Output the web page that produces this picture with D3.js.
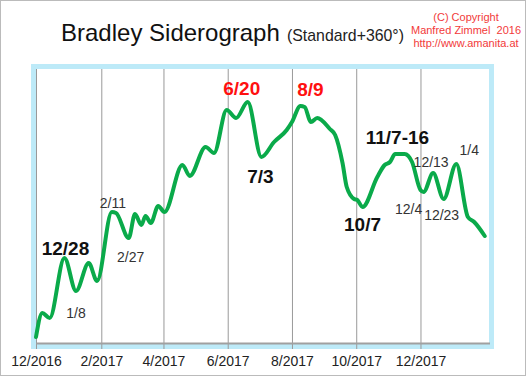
<!DOCTYPE html>
<html>
  <head>
    <title>Bradley Siderograph</title>
    <style>
      body,
      html {
        margin: 0;
        padding: 0;
        background: #fff;
      }
      svg {
        display: block;
        font-family: Arial, 'Liberation Sans', sans-serif;
      }
    </style>
  </head>
  <body>
    <svg id="svg" width="526" height="376"></svg>
    <script src="https://cdn.jsdelivr.net/npm/d3@7"></script>
    <script>
      // series (index values, no unit on the original)
      const dates = [
        '2016-12-01', '2016-12-07', '2016-12-14', '2016-12-28', '2017-01-08',
        '2017-01-20', '2017-01-28', '2017-02-11', '2017-02-15', '2017-02-27',
        '2017-03-05', '2017-03-11', '2017-03-15', '2017-03-20', '2017-03-27',
        '2017-04-02', '2017-04-19', '2017-04-26', '2017-05-11', '2017-05-19',
        '2017-05-31', '2017-06-09', '2017-06-20', '2017-07-03', '2017-07-15',
        '2017-07-27', '2017-08-01', '2017-08-09', '2017-08-13', '2017-08-19',
        '2017-08-25', '2017-09-06', '2017-09-11', '2017-09-18', '2017-09-22',
        '2017-09-29', '2017-10-02', '2017-10-07', '2017-10-21', '2017-10-28',
        '2017-11-02', '2017-11-07', '2017-11-16', '2017-11-23', '2017-12-01',
        '2017-12-04', '2017-12-13', '2017-12-23', '2018-01-04', '2018-01-15',
        '2018-01-21', '2018-01-31',
      ];
      const values = [
        7, 31, 26, 86, 53,
        81, 63, 132, 131, 106,
        130, 119, 128, 121, 138,
        132, 179, 168, 197, 191,
        234, 226, 242, 187, 202,
        214, 222, 238, 237, 222,
        226, 215, 209, 181, 157,
        145, 144, 137, 167, 179,
        182, 190, 190, 182, 154,
        152, 171, 145, 180, 127,
        122, 108,
      ];

      // x axis ticks
      const tickDates = [
        '2016-12-01', '2017-02-01', '2017-04-01', '2017-06-01',
        '2017-08-01', '2017-10-01', '2017-12-01',
      ];

      // turning points marked on the chart
      const turnTexts = ['12/28', '1/8', '2/11', '2/27', '6/20', '7/3', '8/9', '10/7', '11/7-16', '12/4', '12/13', '12/23', '1/4'];
      const turnDates = [
        '2016-12-28', '2017-01-08', '2017-02-11', '2017-02-27', '2017-06-20',
        '2017-07-03', '2017-08-09', '2017-10-07', '2017-11-11', '2017-12-04',
        '2017-12-13', '2017-12-23', '2018-01-04',
      ];
      const turnRank = ['major', 'minor', 'minor', 'minor', 'main', 'major', 'main', 'major', 'major', 'minor', 'minor', 'minor', 'minor'];

      const parse = d3.timeParse('%Y-%m-%d');
      const data = dates.map((d, i) => ({ date: parse(d), value: values[i] }));

      const svg = d3.select('#svg');

      // dotted frame round the picture
      svg
        .append('rect')
        .attr('x', 0.5)
        .attr('y', 0.5)
        .attr('width', 525)
        .attr('height', 375)
        .attr('fill', 'none')
        .attr('stroke', '#777')
        .attr('stroke-dasharray', '1,1');

      const plotLeft = 36;
      const plotRight = 490;
      const plotTop = 69;
      const plotBottom = 344;

      const xScale = d3
        .scaleTime()
        .domain([parse('2016-12-01'), parse('2018-02-05')])
        .range([plotLeft, plotRight]);
      const yScale = d3.scaleLinear().domain([0, 275]).range([plotBottom, plotTop]);

      // light blue plot frame
      svg
        .append('rect')
        .attr('x', 33.5)
        .attr('y', 66.5)
        .attr('width', 458)
        .attr('height', 280)
        .attr('fill', '#fff')
        .attr('stroke', '#bdeaf8')
        .attr('stroke-width', 5);

      // grid lines
      svg
        .append('g')
        .attr('transform', `translate(0, ${plotBottom + 5})`)
        .call(
          d3
            .axisBottom(xScale)
            .tickValues(tickDates.map(parse))
            .tickSize(-(plotBottom + 5 - plotTop))
            .tickFormat('')
        )
        .call((g) => g.select('.domain').remove())
        .call((g) => g.selectAll('line').attr('stroke', '#999'));

      // bottom axis line
      svg
        .append('line')
        .attr('x1', plotLeft)
        .attr('x2', plotRight)
        .attr('y1', plotBottom - 0.5)
        .attr('y2', plotBottom - 0.5)
        .attr('stroke', '#a0a0a0')
        .attr('stroke-width', 2);

      // tick labels
      svg
        .append('g')
        .attr('transform', `translate(0, ${plotBottom})`)
        .call(
          d3
            .axisBottom(xScale)
            .tickValues(tickDates.map(parse))
            .tickSize(0)
            .tickPadding(12)
            .tickFormat(d3.timeFormat('%-m/%Y'))
        )
        .call((g) => g.select('.domain').remove())
        .call((g) =>
          g
            .selectAll('text')
            .attr('font-size', 14)
            .attr('font-family', 'Arial, Liberation Sans, sans-serif')
            .attr('fill', '#222')
        );

      // the siderograph line
      const lineGen = d3
        .line()
        .x((d) => xScale(d.date))
        .y((d) => yScale(d.value))
        .curve(d3.curveMonotoneX);

      svg
        .append('path')
        .attr('d', lineGen(data))
        .attr('fill', 'none')
        .attr('stroke', '#0aaa4a')
        .attr('stroke-width', 4)
        .attr('stroke-linejoin', 'round')
        .attr('stroke-linecap', 'round');

      // turn labels, nudged off the line
      const nudge = {
        '12/28': [1, -10],
        '1/8': [0, 22],
        '2/11': [1, -9],
        '2/27': [2, 19],
        '6/20': [-6, -14],
        '7/3': [-1, 19],
        '8/9': [10, -17],
        '10/7': [0, 17],
        '11/7-16': [-2, -17],
        '12/4': [-15, 17],
        '12/13': [-2, -11],
        '12/23': [-2, 16],
        '1/4': [13, -14],
      };
      const seriesAt = (date) => {
        const i = data.findIndex((d) => +d.date >= +date);
        return data[i].value;
      };
      svg
        .append('g')
        .selectAll('text')
        .data(turnTexts.map((t, i) => ({ text: t, date: parse(turnDates[i]), rank: turnRank[i] })))
        .join('text')
        .attr('x', (d) => xScale(d.date) + nudge[d.text][0])
        .attr('y', (d) => yScale(seriesAt(d.date)) + nudge[d.text][1])
        .attr('dy', '0.35em')
        .attr('text-anchor', 'middle')
        .attr('font-size', (d) => (d.rank === 'minor' ? 14 : 19))
        .attr('font-weight', (d) => (d.rank === 'minor' ? 'normal' : 'bold'))
        .attr('fill', (d) => (d.rank === 'main' ? '#ff1010' : d.rank === 'major' ? '#111' : '#333'))
        .text((d) => d.text);

      // title
      svg
        .append('text')
        .attr('x', 61)
        .attr('y', 41)
        .attr('font-size', 24)
        .attr('fill', '#111')
        .text('Bradley Siderograph');
      svg
        .append('text')
        .attr('x', 287)
        .attr('y', 41)
        .attr('font-size', 17)
        .attr('textLength', 117)
        .attr('lengthAdjust', 'spacingAndGlyphs')
        .attr('fill', '#222')
        .text('(Standard+360°)');

      // copyright
      const copyLines = ['(C) Copyright', 'Manfred Zimmel  2016', 'http://www.amanita.at'];
      svg
        .append('g')
        .selectAll('text')
        .data(copyLines)
        .join('text')
        .attr('x', 466)
        .attr('y', (d, i) => 17 + i * 13)
        .attr('dy', '0.35em')
        .attr('text-anchor', 'middle')
        .attr('font-size', 11)
        .attr('fill', '#f23a3a')
        .style('white-space', 'pre')
        .text((d) => d);
    </script>
  </body>
</html>
